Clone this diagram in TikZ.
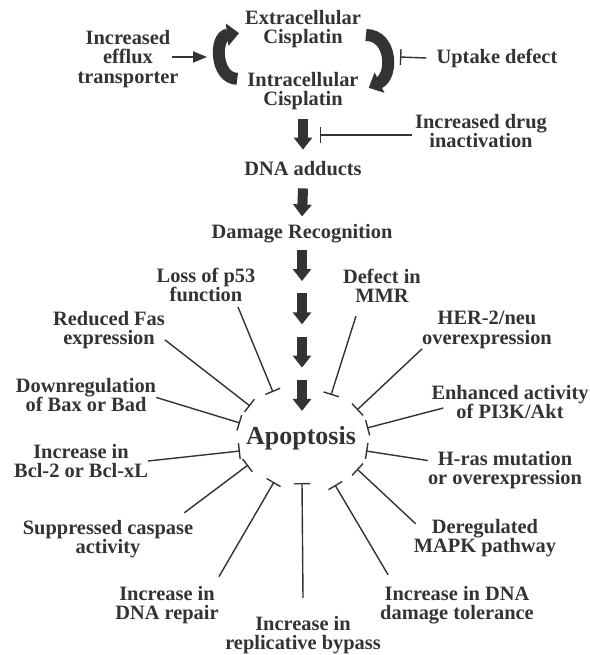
\documentclass[tikz,border=0pt]{standalone}
\usepackage{fontspec}
\setmainfont{Liberation Serif}
\usepackage{xcolor}
\usetikzlibrary{arrows.meta,calc}
\definecolor{ink}{HTML}{333333}

\begin{document}
\begin{tikzpicture}[x=1pt, y=-1pt, ink, text=ink,
  lbl/.style={align=center, inner sep=0pt, font=\fontsize{20.4}{19.5}\selectfont\bfseries},
  blk/.style={line width=10pt, -{Triangle[length=12pt,width=18pt]}},
  inh/.style={line width=1.4pt, -{Bar[width=16pt]}},
  curl/.style={line width=12pt, -{Triangle[length=12pt,width=22pt]}},
  push/.style={line width=2pt, -{Triangle[length=14pt,width=11pt]}}]
\useasboundingbox (0,0) rectangle (589,655);

% uptake / efflux of the drug
\node[lbl] (extra) at (303,29) {Extracellular\\Cisplatin};
\node[lbl] (intra) at (303,91) {Intracellular\\Cisplatin};
\node[lbl] (efflux) at (128,59) {Increased\\efflux\\transporter};
\node[lbl] (uptake) at (497,58) {Uptake defect};
\node[lbl] (inact) at (481,131) {Increased drug\\inactivation};
\node[lbl] (adducts) at (303,169) {DNA adducts};
\node[lbl] (recog) at (302,234) {Damage Recognition};
\node[lbl, font=\fontsize{26}{30}\selectfont\bfseries] (apop) at (301,438) {Apoptosis};

\coordinate (effluxTip) at (207,57);
\coordinate (uptakeBar) at (400,57);
\coordinate (inactBar) at (320,135);

\draw[curl] ([shift={(-10,7)}]intra.north west) .. controls +(-22,0) and +(-25,3) .. ([shift={(-6,-15)}]extra.south west);
\draw[curl] ([shift={(5,6)}]extra.east) .. controls +(26,0) and +(25,-12) .. ([shift={(10,16)}]intra.north east);
\draw[push] ([shift={(-7,-2)}]efflux.east) -- (effluxTip);
\draw[inh] ([xshift=-10pt]uptake.west) -- (uptakeBar);
\draw[inh] ([shift={(-3,4)}]inact.west) -- (inactBar);

\draw[blk] ([yshift=-9pt]intra.south) -- ([yshift=12pt]adducts.north);
\draw[blk] ([yshift=-12pt]adducts.south) -- ([yshift=8pt]recog.north);
\foreach \k in {0,...,3}
  \draw[blk] ($(recog.south)+(0,6.5+43.3*\k)$) -- ++(0,31);

% resistance mechanisms round apoptosis
\node[lbl] (p53) at (206,285) {Loss of p53\\function};
\node[lbl] (mmr) at (382,286) {Defect in\\MMR};
\node[lbl] (fas) at (109,330) {Reduced Fas\\expression};
\node[lbl] (her) at (487,330) {HER-2/neu\\overexpression};
\node[lbl] (bax) at (86,395) {Downregulation\\of Bax or Bad};
\node[lbl] (pik) at (510,402) {Enhanced activity\\of PI3K/Akt};
\node[lbl] (bcl) at (81,461) {Increase in\\Bcl-2 or Bcl-xL};
\node[lbl] (hras) at (505,470) {H-ras mutation\\or overexpression};
\node[lbl] (casp) at (108,539) {Suppressed caspase\\activity};
\node[lbl] (mapk) at (485,538) {Deregulated\\MAPK pathway};
\node[lbl] (repair) at (167,605) {Increase in\\DNA repair};
\node[lbl] (toler) at (457,605) {Increase in DNA\\damage tolerance};
\node[lbl] (bypass) at (303,635) {Increase in\\replicative bypass};

\coordinate (eP53) at (273,392);
\coordinate (eMmr) at (331,395);
\coordinate (eFas) at (250,406);
\coordinate (eHer) at (357,410);
\coordinate (eBax) at (240,423);
\coordinate (ePik) at (367,428);
\coordinate (eBcl) at (240,451);
\coordinate (eHras) at (366,451);
\coordinate (eCasp) at (248,465);
\coordinate (eMapk) at (357,469);
\coordinate (eRepair) at (274,482);
\coordinate (eBypass) at (302,483);
\coordinate (eToler) at (335,485);

\draw[inh] ([shift={(32,22)}]p53.center) -- (eP53);
\draw[inh] ([shift={(-26,30)}]mmr.center) -- (eMmr);
\draw[inh] (fas.-10) -- (eFas);
\draw[inh] (her.south west) -- (eHer);
\draw[inh] (bax.-2) -- (eBax);
\draw[inh] ([shift={(12,6)}]pik.west) -- (ePik);
\draw[inh] (bcl.east) -- (eBcl);
\draw[inh] (hras.173) -- (eHras);
\draw[inh] ([shift={(-9,-7)}]casp.north east) -- (eCasp);
\draw[inh] ([shift={(2,5)}]mapk.north west) -- (eMapk);
\draw[inh] ([shift={(0,-9)}]repair.north east) -- (eRepair);
\draw[inh] ([shift={(0,-18)}]bypass.north) -- (eBypass);
\draw[inh] ([shift={(8,-11)}]toler.north west) -- (eToler);
\end{tikzpicture}
\end{document}
